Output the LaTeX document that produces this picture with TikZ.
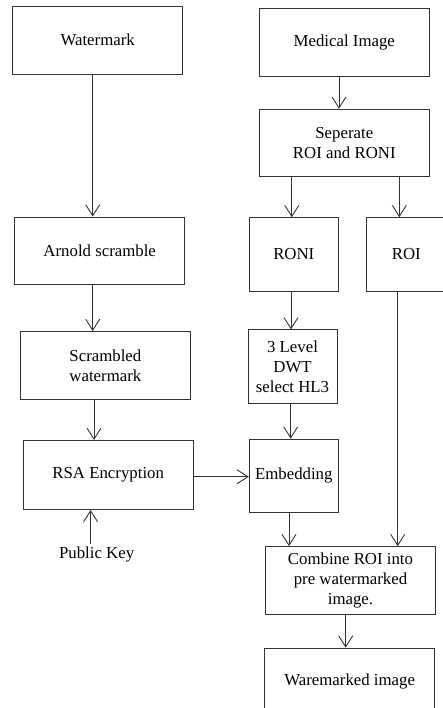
\documentclass[tikz,border=0pt]{standalone}
\usepackage{fontspec}
\setmainfont{Liberation Serif}
\usetikzlibrary{positioning,arrows.meta}

\begin{document}
\begin{tikzpicture}[x=1pt,y=-1pt]
\tikzstyle{main}=[rectangle, draw=black!80, line width=1pt, inner sep=3pt, align=center, font=\fontsize{16.8}{20}\selectfont, minimum width=170pt, minimum height=67.5pt]
\tikzstyle{narrow}=[main, minimum width=89pt, minimum height=73.5pt]
\tikzstyle{plain}=[inner sep=3pt, font=\fontsize{16.8}{20}\selectfont]
\tikzstyle{connect}=[-{Straight Barb[length=11pt,width=14pt]}, line width=0.9pt, draw=black!80]
\useasboundingbox (0,0) rectangle (443,708);
\clip (0,0) rectangle (443,708);
  % watermark side
  \node[main] (wm) at (97.7,40.3) {Watermark};
  \node[main] (arn) [below=142pt of wm, xshift=2pt] {Arnold scramble};
  \node[main] (scr) [below=46pt of arn, xshift=5.7pt] {Scrambled\\watermark};
  \node[main, minimum height=69pt] (rsa) [below=40.4pt of scr, xshift=2.8pt] {RSA Encryption};
  \node[plain] (pub) [below=34pt of rsa, xshift=-11.6pt] {Public Key};
  % image side
  \node[main] (med) at (344.3,42.5) {Medical Image};
  \node[main] (sep) [below=32pt of med] {Seperate\\ROI and RONI};
  \node[narrow] (ron) [below=40pt of sep, xshift=-50.5pt] {RONI};
  \node[narrow, minimum width=80pt] (roi) [right=27pt of ron] {ROI};
  \node[narrow] (dwt) [below=37.7pt of ron, xshift=-1.3pt] {3 Level\\DWT\\select HL3};
  \node[narrow] (emb) [below=34.7pt of dwt, xshift=1.3pt] {Embedding};
  \node[main] (cmb) [below=33pt of emb, xshift=56.7pt] {Combine ROI into\\pre watermarked\\image.};
  \node[main] (wrm) [below=33pt of cmb, xshift=-0.8pt] {Waremarked image};
\draw[connect] ([xshift=-5pt]wm.south) -- ([xshift=-5pt]wm.south |- arn.north);
\draw[connect] ([xshift=-7pt]arn.south) -- ([xshift=-7pt]arn.south |- scr.north);
\draw[connect] ([xshift=-11.4pt]scr.south) -- ([xshift=-11.4pt]scr.south |- rsa.north);
\draw[connect] ([xshift=-6pt]pub.north) -- ([xshift=-6pt]pub.north |- rsa.south);
\draw[connect] ([yshift=-1.8pt]rsa.east) -- ([yshift=-1.8pt]rsa.east -| emb.west);
\draw[connect] ([xshift=-5.3pt]med.south) -- ([xshift=-5.3pt]med.south |- sep.north);
\draw[connect] ([xshift=-2pt]ron.north |- sep.south) -- ([xshift=-2pt]ron.north);
\draw[connect] ([xshift=-7pt]roi.north |- sep.south) -- ([xshift=-7pt]roi.north);
\draw[connect] ([xshift=-2.8pt]ron.south) -- ([xshift=-2.8pt]ron.south |- dwt.north);
\draw[connect] ([xshift=-1.8pt]dwt.south) -- ([xshift=-1.8pt]dwt.south |- emb.north);
\draw[connect] ([xshift=-4.8pt]emb.south) -- ([xshift=-4.8pt]emb.south |- cmb.north);
\draw[connect] ([xshift=-8.6pt]roi.south) -- ([xshift=-8.6pt]roi.south |- cmb.north);
\draw[connect] ([xshift=-4.8pt]cmb.south) -- ([xshift=-4.8pt]cmb.south |- wrm.north);
\end{tikzpicture}
\end{document}
